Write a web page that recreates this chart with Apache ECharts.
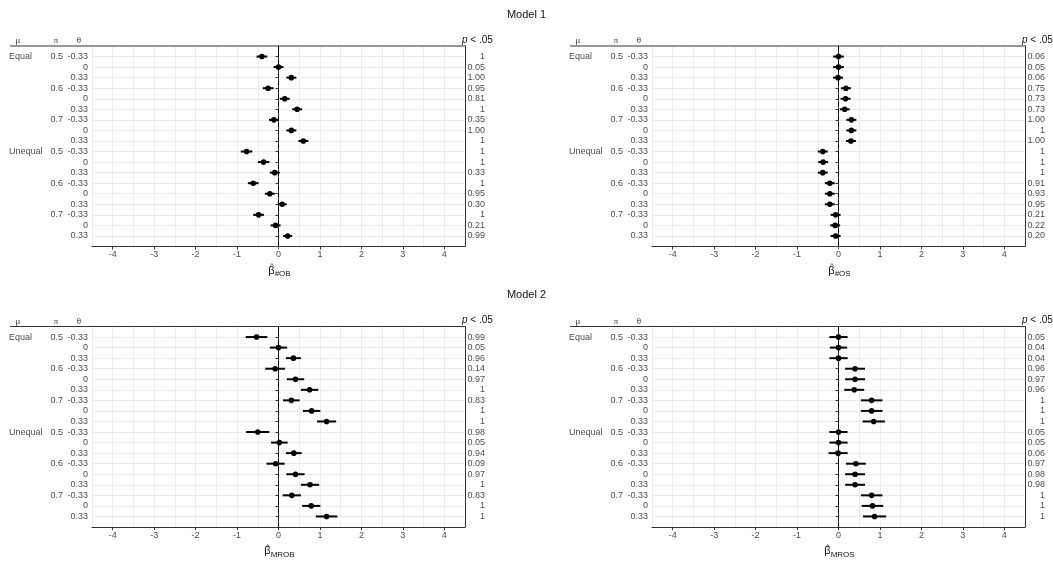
<!DOCTYPE html>
<html><head><meta charset="utf-8">
<script src="https://cdn.jsdelivr.net/npm/echarts@6/dist/echarts.min.js"></script>
<style>html,body{margin:0;padding:0;background:#fff}#c{width:1053px;height:563px}</style>
</head><body><div id="c"></div>
<script>
// ---- data ----
const muLabels = ['Equal','','','','','','','','','Unequal','','','','','','','',''];
const piLabels = ['0.5','','','0.6','','','0.7','','','0.5','','','0.6','','','0.7','',''];
const thetaLabels = ['-0.33','0','0.33','-0.33','0','0.33','-0.33','0','0.33','-0.33','0','0.33','-0.33','0','0.33','-0.33','0','0.33'];
const xTicks = [-4,-3,-2,-1,0,1,2,3,4];
const modelTitles = ['Model 1','Model 2'];

const obEst = [-0.40,0.00,0.31,-0.25,0.15,0.45,-0.11,0.31,0.60,-0.77,-0.36,-0.09,-0.61,-0.21,0.09,-0.48,-0.07,0.22];
const obHw  = [0.13,0.12,0.12,0.13,0.12,0.12,0.12,0.12,0.12,0.14,0.14,0.12,0.13,0.12,0.11,0.13,0.12,0.11];
const obP   = ['1','0.05','1.00','0.95','0.81','1','0.35','1.00','1','1','1','0.33','1','0.95','0.30','1','0.21','0.99'];

const osEst = [0.00,0.00,-0.01,0.18,0.17,0.15,0.31,0.31,0.30,-0.38,-0.37,-0.38,-0.21,-0.21,-0.21,-0.07,-0.08,-0.07];
const osHw  = [0.13,0.13,0.12,0.12,0.12,0.12,0.12,0.12,0.12,0.12,0.12,0.12,0.12,0.12,0.12,0.12,0.12,0.12];
const osP   = ['0.06','0.05','0.06','0.75','0.73','0.73','1.00','1','1.00','1','1','1','0.91','0.93','0.95','0.21','0.22','0.20'];

const mrobEst = [-0.53,0.00,0.36,-0.08,0.41,0.75,0.31,0.80,1.16,-0.50,0.02,0.37,-0.07,0.41,0.76,0.32,0.79,1.16];
const mrobHw  = [0.26,0.21,0.18,0.24,0.21,0.21,0.20,0.21,0.23,0.28,0.20,0.19,0.22,0.22,0.22,0.22,0.22,0.26];
const mrobP   = ['0.99','0.05','0.96','0.14','0.97','1','0.83','1','1','0.98','0.05','0.94','0.09','0.97','1','0.83','1','1'];

const mrosEst = [0.00,0.00,0.00,0.40,0.40,0.38,0.80,0.80,0.85,0.00,0.00,-0.01,0.42,0.40,0.40,0.80,0.82,0.87];
const mrosHw  = [0.22,0.21,0.22,0.24,0.24,0.24,0.26,0.26,0.27,0.22,0.22,0.23,0.24,0.24,0.24,0.26,0.26,0.28];
const mrosP   = ['0.05','0.04','0.04','0.96','0.97','0.96','1','1','1','0.05','0.05','0.06','0.97','0.98','0.98','1','1','1'];

const panels = [
  {sub:'#OB', est:obEst, hw:obHw, p:obP},
  {sub:'#OS', est:osEst, hw:osHw, p:osP},
  {sub:'MROB', est:mrobEst, hw:mrobHw, p:mrobP},
  {sub:'MROS', est:mrosEst, hw:mrosHw, p:mrosP}
];
const refLine = [[0, 0], [0, 19]];

// ---- layout ----
const W = 1053, H = 563;
const colLeft = [92, 652], plotW = 373;
const rowTop = [46, 326.5], plotH = 200.5;
const SANS = 'Liberation Sans, Arial, sans-serif';
const SERIF = 'Liberation Serif, DejaVu Serif, serif';
const rows = thetaLabels.map((_, i) => i + 1);

const mctx = document.createElement('canvas').getContext('2d');
function textW(t, font) { mctx.font = font; return mctx.measureText(t).width; }

const grids = [], xAxes = [], yAxes = [], series = [], graphics = [];
panels.forEach((pn, g) => {
  const c = g % 2, r = Math.floor(g / 2);
  const L = colLeft[c], T = rowTop[r];
  grids.push({left: L, top: T, width: plotW, height: plotH, containLabel: false});
  xAxes.push({
    type:'value', gridIndex:g, position:'bottom', min:-4.5, max:4.5, interval:0.5,
    axisLine:{show:true, onZero:false, lineStyle:{color:'#333', width:1}},
    axisTick:{show:true, length:3, customValues:xTicks, lineStyle:{color:'#333'}},
    axisLabel:{show:true, customValues:xTicks, margin:4, fontSize:9, color:'#4d4d4d', fontFamily:SANS,
      formatter: v => (Number.isInteger(v) ? String(v) : '')},
    splitLine:{show:false}
  });
  xAxes.push({
    type:'value', gridIndex:g, position:'top', min:-4.5, max:4.5, interval:0.5,
    axisLine:{show:false}, axisTick:{show:false}, axisLabel:{show:false},
    splitLine:{show:true, lineStyle:{color:'#ebebeb', width:1}}
  });
  const yBase = {type:'value', gridIndex:g, min:0, max:19, interval:1, inverse:true};
  yAxes.push(Object.assign({}, yBase, {
    position:'left',
    axisLine:{show:true, lineStyle:{color:'#333', width:1}},
    axisTick:{show:true, length:3, customValues:rows, lineStyle:{color:'#333'}},
    axisLabel:{show:true, customValues:rows, margin:4, fontSize:9, color:'#4d4d4d', fontFamily:SANS,
      formatter: v => thetaLabels[v-1] || ''},
    splitLine:{show:true, lineStyle:{color:'#ebebeb', width:1}}
  }));
  yAxes.push(Object.assign({}, yBase, {
    position:'left', axisLine:{show:false}, axisTick:{show:false}, splitLine:{show:false},
    axisLabel:{show:true, customValues:rows, margin:29, fontSize:9, color:'#4d4d4d', fontFamily:SANS,
      formatter: v => piLabels[v-1] || ''}
  }));
  yAxes.push(Object.assign({}, yBase, {
    position:'left', axisLine:{show:false}, axisTick:{show:false}, splitLine:{show:false},
    axisLabel:{show:true, customValues:rows, margin:83, align:'left', fontSize:9, color:'#4d4d4d', fontFamily:SANS,
      formatter: v => muLabels[v-1] || ''}
  }));
  yAxes.push(Object.assign({}, yBase, {
    position:'right', axisLine:{show:true, lineStyle:{color:'#333', width:1}}, axisTick:{show:false}, splitLine:{show:false},
    axisLabel:{show:true, customValues:rows, margin:20, align:'right', fontSize:9, color:'#4d4d4d', fontFamily:SANS,
      formatter: v => pn.p[v-1] || ''}
  }));
  // zero reference line (dashed)
  series.push({
    type:'line', xAxisIndex:2*g, yAxisIndex:4*g, data:refLine, symbol:'none', silent:true, z:3,
    lineStyle:{type:[4,3], color:'#000', width:1}
  });
  const data = pn.est.map((e, i) => [e, e - pn.hw[i], e + pn.hw[i], i + 1]);
  series.push({
    type:'custom', xAxisIndex:2*g, yAxisIndex:4*g, data:data, z:5,
    encode:{x:[0,1,2], y:3},
    renderItem:(params, api) => {
      const y = api.value(3);
      const p = api.coord([api.value(0), y]);
      const lo = api.coord([api.value(1), y]);
      const hi = api.coord([api.value(2), y]);
      return {type:'group', children:[
        {type:'line', shape:{x1:lo[0], y1:lo[1], x2:hi[0], y2:hi[1]}, style:{stroke:'#000', lineWidth:2}},
        {type:'circle', shape:{cx:p[0], cy:p[1], r:2.8}, style:{fill:'#000'}}
      ]};
    }
  });
  // header line & labels
  graphics.push({type:'line', shape:{x1:L-82, y1:T, x2:L+plotW, y2:T}, style:{stroke:'#333', lineWidth:1.2}, z:10});
  graphics.push({type:'text', x:L-74, y:T-5, style:{text:'\u03BC', font:'9px ' + SERIF, fill:'#333', align:'center', verticalAlign:'middle'}});
  graphics.push({type:'text', x:L-36, y:T-5, style:{text:'\u03C0', font:'9px ' + SERIF, fill:'#333', align:'center', verticalAlign:'middle'}});
  graphics.push({type:'text', x:L-13, y:T-5, style:{text:'\u03B8', font:'9px ' + SERIF, fill:'#333', align:'center', verticalAlign:'middle'}});
  graphics.push({type:'text', x:L+plotW-3, y:T-6, style:{
    text:'{i|p} < .05', fill:'#111', align:'left', verticalAlign:'middle',
    rich:{i:{fontStyle:'italic', fontSize:10, fontFamily:SANS, fill:'#111'}},
    font:'10px ' + SANS}});
  // axis title: beta-hat with subscript
  const axisY = T + plotH;
  const fB = '11px ' + SANS, fS = '8px ' + SANS;
  const wb = textW('\u03B2', fB), ws = textW(pn.sub, fS);
  const x0 = L + plotW / 2 - (wb + ws) / 2 + 1;
  graphics.push({type:'text', x:x0, y:axisY + 24, style:{text:'\u03B2', font:fB, fill:'#111', align:'left', verticalAlign:'middle'}});
  graphics.push({type:'text', x:x0 + wb / 2 + 0.3, y:axisY + 19.5, style:{text:'^', font:'8px ' + SANS, fill:'#111', align:'center', verticalAlign:'middle'}});
  graphics.push({type:'text', x:x0 + wb, y:axisY + 27.5, style:{text:pn.sub, font:fS, fill:'#111', align:'left', verticalAlign:'middle'}});
});
graphics.push({type:'text', x:W/2, y:15, style:{text:modelTitles[0], font:'11px ' + SANS, fill:'#111', align:'center', verticalAlign:'middle'}});
graphics.push({type:'text', x:W/2, y:295, style:{text:modelTitles[1], font:'11px ' + SANS, fill:'#111', align:'center', verticalAlign:'middle'}});

const chart = echarts.init(document.getElementById('c'), null, {renderer:'canvas'});
chart.setOption({
  animation:false, backgroundColor:'#fff',
  grid:grids, xAxis:xAxes, yAxis:yAxes, series:series, graphic:graphics
});
</script></body></html>
